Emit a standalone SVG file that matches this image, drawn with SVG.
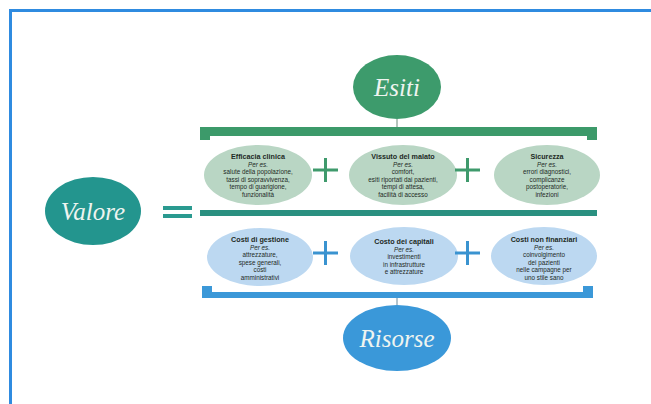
<svg xmlns="http://www.w3.org/2000/svg" width="651" height="404" viewBox="0 0 651 404">
<style>
.big{font-family:"Liberation Serif",serif;font-style:italic;fill:#eef4f0;font-size:25px;text-anchor:middle}
.t{font-family:"Liberation Sans",Arial,sans-serif;font-size:6.3px;fill:#1d2a24;text-anchor:middle}
.h{font-weight:bold;font-size:7.2px}
.g{fill:#b9d6c4}
.b{fill:#bcd8f1}
.gp{stroke:#3f9a6c;stroke-width:3}
.bp{stroke:#3a93d0;stroke-width:3}
</style>
<rect x="0" y="0" width="651" height="404" fill="#fff"/>
<rect x="10.5" y="10.5" width="700" height="500" fill="none" stroke="#2f8be0" stroke-width="3"/>
<g id="esiti"><ellipse cx="397" cy="87" rx="44" ry="32" fill="#3d9b6c"/><text class="big" x="397" y="96">Esiti</text></g>
<g id="valore"><ellipse cx="93" cy="211" rx="48" ry="34" fill="#23958e"/><text class="big" x="93" y="220">Valore</text></g>
<g id="risorse"><ellipse cx="397" cy="338" rx="54" ry="33" fill="#3a98d9"/><text class="big" x="397" y="347">Risorse</text></g>
<g id="efficacia"><ellipse class="g" cx="258" cy="175" rx="54" ry="30"/>
<text class="t" x="258" y="159"><tspan class="h">Efficacia clinica</tspan><tspan x="258" dy="7.5" font-style="italic">Per es.</tspan><tspan x="258" dy="7.5">salute della popolazione,</tspan><tspan x="258" dy="7.5">tassi di sopravvivenza,</tspan><tspan x="258" dy="7.5">tempo di guarigione,</tspan><tspan x="258" dy="7.5">funzionalità</tspan></text></g>
<g id="vissuto"><ellipse class="g" cx="403" cy="175" rx="54" ry="30"/>
<text class="t" x="403" y="159"><tspan class="h">Vissuto del malato</tspan><tspan x="403" dy="7.5" font-style="italic">Per es.</tspan><tspan x="403" dy="7.5">comfort,</tspan><tspan x="403" dy="7.5">esiti riportati dai pazienti,</tspan><tspan x="403" dy="7.5">tempi di attesa,</tspan><tspan x="403" dy="7.5">facilità di accesso</tspan></text></g>
<g id="sicurezza"><ellipse class="g" cx="547" cy="175" rx="53" ry="30"/>
<text class="t" x="547" y="159"><tspan class="h">Sicurezza</tspan><tspan x="547" dy="7.5" font-style="italic">Per es.</tspan><tspan x="547" dy="7.5">errori diagnostici,</tspan><tspan x="547" dy="7.5">complicanze</tspan><tspan x="547" dy="7.5">postoperatorie,</tspan><tspan x="547" dy="7.5">infezioni</tspan></text></g>
<g id="gestione"><ellipse class="b" cx="260" cy="257" rx="53" ry="29"/>
<text class="t" x="260" y="242"><tspan class="h">Costi di gestione</tspan><tspan x="260" dy="7.5" font-style="italic">Per es.</tspan><tspan x="260" dy="7.5">attrezzature,</tspan><tspan x="260" dy="7.5">spese generali,</tspan><tspan x="260" dy="7.5">costi</tspan><tspan x="260" dy="7.5">amministrativi</tspan></text></g>
<g id="capitali"><ellipse class="b" cx="404" cy="256" rx="54" ry="29"/>
<text class="t" x="404" y="244"><tspan class="h">Costo dei capitali</tspan><tspan x="404" dy="7.5" font-style="italic">Per es.</tspan><tspan x="404" dy="7.5">investimenti</tspan><tspan x="404" dy="7.5">in infrastrutture</tspan><tspan x="404" dy="7.5">e attrezzature</tspan></text></g>
<g id="nonfinanziari"><ellipse class="b" cx="544" cy="256" rx="53" ry="29"/>
<text class="t" x="544" y="242"><tspan class="h">Costi non finanziari</tspan><tspan x="544" dy="7.5" font-style="italic">Per es.</tspan><tspan x="544" dy="7.5">coinvolgimento</tspan><tspan x="544" dy="7.5">dei pazienti</tspan><tspan x="544" dy="7.5">nelle campagne per</tspan><tspan x="544" dy="7.5">uno stile sano</tspan></text></g>
<g id="connectors">
<line x1="397" y1="119" x2="397" y2="128" stroke="#6a8a7a" stroke-width="1"/>
<path d="M200 127 H597 V140 H587 V136 H210 V140 H200 Z" fill="#3c9a6a"/>
<rect x="200" y="210" width="397" height="6" fill="#2a9080"/>
<path d="M202 286 H212 V292 H583 V286 H593 V298 H202 Z" fill="#3b98d8"/>
<line x1="397" y1="298" x2="397" y2="305" stroke="#6a8a9a" stroke-width="1"/>
<g class="gp"><line x1="313" y1="170" x2="338" y2="170"/><line x1="325.5" y1="158" x2="325.5" y2="182"/><line x1="455" y1="170" x2="480" y2="170"/><line x1="467.5" y1="158" x2="467.5" y2="182"/></g>
<g class="bp"><line x1="313" y1="253" x2="338" y2="253"/><line x1="325.5" y1="241" x2="325.5" y2="265"/><line x1="455" y1="253" x2="480" y2="253"/><line x1="467.5" y1="241" x2="467.5" y2="265"/></g>
<g fill="#2a9a90"><rect x="163" y="206" width="29" height="4"/><rect x="163" y="214" width="29" height="4"/></g>
</g>
</svg>
